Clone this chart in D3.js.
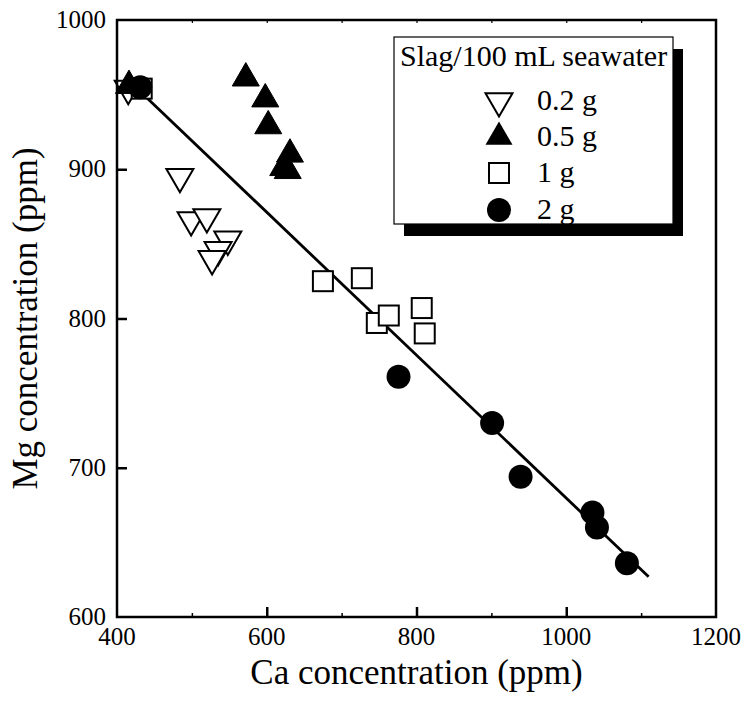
<!DOCTYPE html>
<html>
<head>
<meta charset="utf-8">
<script src="https://cdn.jsdelivr.net/npm/d3@7"></script>
<style>
  html, body { margin: 0; padding: 0; background: #fff; }
  svg { display: block; }
  text { font-family: "Liberation Serif", "Times New Roman", serif; fill: #000; }
</style>
</head>
<body>
<svg id="chart" width="744" height="702"></svg>
<script>
// ---- data ----
const ca02 = [415, 484, 499, 520, 548, 535, 527];
const mg02 = [954, 895, 866, 868, 853, 846, 840];

const ca05 = [416, 572, 598, 602, 631, 622, 628];
const mg05 = [956, 961, 947, 929, 910, 901, 899];

const ca1 = [433, 675, 727, 747, 763, 807, 811];
const mg1 = [954, 825, 827, 797, 802, 807, 790];

const ca2 = [431, 776, 901, 939, 1035, 1041, 1081];
const mg2 = [955, 761, 730, 694, 670, 660, 636];

const fitCa = [425, 1110];
const fitMg = [955, 627];

const xTicks = [400, 600, 800, 1000, 1200];
const xMinor = [500, 700, 900, 1100];
const yTicks = [600, 700, 800, 900, 1000];

const legendTitle = "Slag/100 mL seawater";
const legendLabels = ["0.2 g", "0.5 g", "1 g", "2 g"];

// ---- layout ----
const svg = d3.select("#chart");
const L = 117, T = 20, W = 599, H = 597;
const x = d3.scaleLinear().domain([400, 1200]).range([L, L + W]);
const y = d3.scaleLinear().domain([600, 1000]).range([T + H, T]);

const S = 27, TH = S * Math.sqrt(3) / 2;
function triDown(cx, cy) {
  return `M${cx},${cy + 2 * TH / 3}L${cx - S / 2},${cy - TH / 3}L${cx + S / 2},${cy - TH / 3}Z`;
}
function triUp(cx, cy) {
  return `M${cx},${cy - 2 * TH / 3}L${cx - S / 2},${cy + TH / 3}L${cx + S / 2},${cy + TH / 3}Z`;
}
const SQ = 20, R = 12;

// fit line
svg.append("line")
  .attr("x1", x(fitCa[0])).attr("y1", y(fitMg[0]))
  .attr("x2", x(fitCa[1])).attr("y2", y(fitMg[1]))
  .attr("stroke", "#000").attr("stroke-width", 2.8);

// series
const g = svg.append("g");
g.selectAll("path.t02").data(ca02.map((c, i) => [c, mg02[i]])).join("path")
  .attr("d", d => triDown(x(d[0]), y(d[1])))
  .attr("fill", "#fff").attr("stroke", "#000").attr("stroke-width", 2);
g.selectAll("path.t05").data(ca05.map((c, i) => [c, mg05[i]])).join("path")
  .attr("d", d => triUp(x(d[0]), y(d[1])))
  .attr("fill", "#000").attr("stroke", "#000").attr("stroke-width", 1);
g.selectAll("rect.s1").data(ca1.map((c, i) => [c, mg1[i]])).join("rect")
  .attr("x", d => x(d[0]) - SQ / 2).attr("y", d => y(d[1]) - SQ / 2)
  .attr("width", SQ).attr("height", SQ)
  .attr("fill", "#fff").attr("stroke", "#000").attr("stroke-width", 2);
g.selectAll("circle.c2").data(ca2.map((c, i) => [c, mg2[i]])).join("circle")
  .attr("cx", d => x(d[0])).attr("cy", d => y(d[1])).attr("r", R)
  .attr("fill", "#000");

// frame
svg.append("rect").attr("x", L).attr("y", T).attr("width", W).attr("height", H)
  .attr("fill", "none").attr("stroke", "#000").attr("stroke-width", 2.5);

// x axis ticks (inside)
const xa = svg.append("g").attr("transform", `translate(0,${T + H})`)
  .call(d3.axisBottom(x).tickValues([600, 800, 1000]).tickSizeInner(-10).tickSizeOuter(0).tickFormat(""));
xa.select(".domain").remove();
xa.selectAll("line").attr("stroke-width", 2.5);

const xm = svg.append("g").attr("transform", `translate(0,${T + H})`)
  .call(d3.axisBottom(x).tickValues(xMinor).tickSizeInner(-4).tickSizeOuter(0).tickFormat(""));
xm.select(".domain").remove();
xm.selectAll("line").attr("stroke-width", 1.5);

const xt = svg.append("g").attr("transform", `translate(0,${T})`)
  .call(d3.axisTop(x).tickValues(xMinor.concat([600, 800, 1000])).tickSizeInner(-3).tickSizeOuter(0).tickFormat(""));
xt.select(".domain").remove();
xt.selectAll("line").attr("stroke-width", 1.2);

const ya = svg.append("g").attr("transform", `translate(${L},0)`)
  .call(d3.axisLeft(y).tickValues([700, 800, 900]).tickSizeInner(-10).tickSizeOuter(0).tickFormat(""));
ya.select(".domain").remove();
ya.selectAll("line").attr("stroke-width", 2.5);

// tick labels
svg.append("g").selectAll("text").data(xTicks).join("text")
  .attr("x", d => x(d)).attr("y", T + H + 28)
  .attr("text-anchor", "middle")
  .attr("font-family", "Liberation Serif").attr("font-size", 25)
  .style("font-size", "25px")
  .text(d => d);
svg.append("g").selectAll("text").data(yTicks).join("text")
  .attr("x", L - 11).attr("y", d => y(d) + 8)
  .attr("text-anchor", "end")
  .attr("font-family", "Liberation Serif").attr("font-size", 25)
  .style("font-size", "25px")
  .text(d => d);

// axis titles
svg.append("text").attr("x", x(800)).attr("y", 684)
  .attr("text-anchor", "middle").attr("font-size", 35)
  .text("Ca concentration (ppm)");
svg.append("text").attr("transform", `translate(37,${y(800)}) rotate(-90)`)
  .attr("text-anchor", "middle").attr("font-size", 35)
  .text("Mg concentration (ppm)");

// legend
const lg = svg.append("g");
const lx = 394, ly = 37, lw = 279, lh = 187;
lg.append("rect").attr("x", lx + 10).attr("y", ly + 12).attr("width", lw).attr("height", lh).attr("fill", "#000");
lg.append("rect").attr("x", lx).attr("y", ly).attr("width", lw).attr("height", lh)
  .attr("fill", "#fff").attr("stroke", "#000").attr("stroke-width", 1.2);
lg.append("text").attr("x", lx + 6).attr("y", ly + 29).attr("font-size", 30).text(legendTitle);
const rowY = [101, 137, 173, 210];
const symX = 499;
lg.append("path").attr("d", triDown(symX, rowY[0])).attr("fill", "#fff").attr("stroke", "#000").attr("stroke-width", 2);
lg.append("path").attr("d", triUp(symX, rowY[1])).attr("fill", "#000");
lg.append("rect").attr("x", symX - SQ / 2).attr("y", rowY[2] - SQ / 2).attr("width", SQ).attr("height", SQ)
  .attr("fill", "#fff").attr("stroke", "#000").attr("stroke-width", 2);
lg.append("circle").attr("cx", symX).attr("cy", rowY[3]).attr("r", R).attr("fill", "#000");
legendLabels.forEach((t, i) => {
  lg.append("text").attr("x", 537).attr("y", rowY[i] + 9).attr("font-size", 30).text(t);
});
</script>
</body>
</html>
